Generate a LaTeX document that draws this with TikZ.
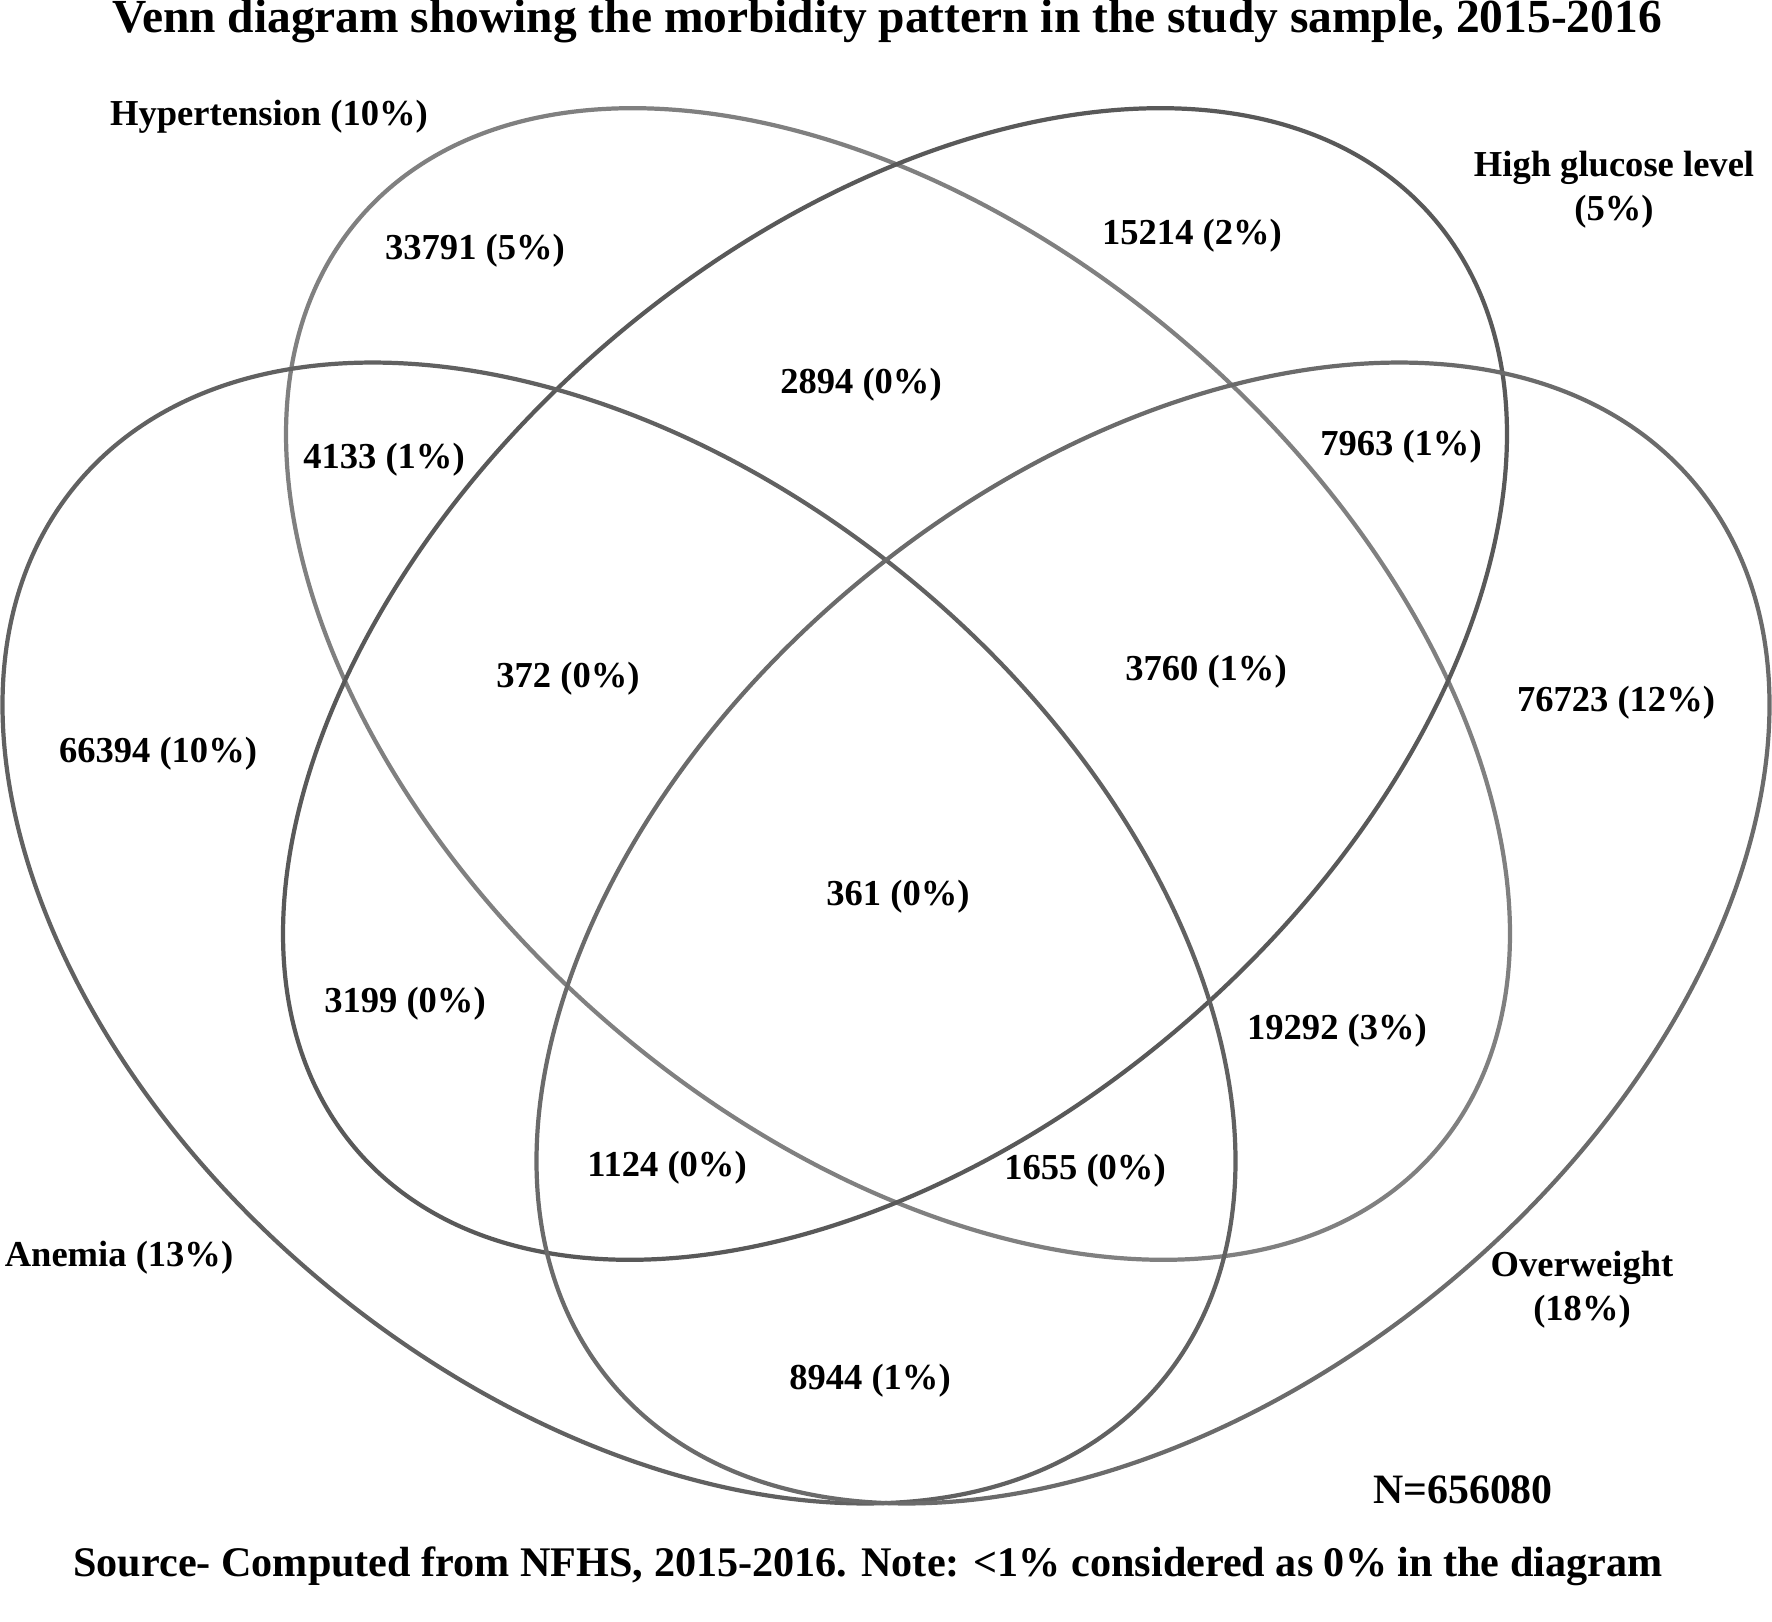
\documentclass[tikz,border=0pt]{standalone}
\usepackage{fontspec}
\setmainfont{Liberation Serif}
\begin{document}
\begin{tikzpicture}
	\tikzset{lbl/.style={font=\fontsize{10.4}{12.5}\selectfont\bfseries, align=center},
		set/.style={line width=1.2pt}};
	\useasboundingbox (0,0) rectangle (17.72,16.21);
	% the four sets
	\draw[set, draw=black!50] (8.98,9.37) ellipse[x radius=7.12, y radius=4.46, rotate=-41];
	\draw[set, draw=black!65] (8.95,9.37) ellipse[x radius=7.12, y radius=4.46, rotate=41];
	\draw[set, draw=black!62] (6.19,6.88) ellipse[x radius=7.04, y radius=4.58, rotate=-39.5];
	\draw[set, draw=black!58] (11.53,6.88) ellipse[x radius=7.04, y radius=4.58, rotate=39.5];
	% counts
	\foreach \x/\y/\t/\nm in {4.75/13.70/33791 (5\%)/a, 11.92/13.85/15214 (2\%)/b,
		8.61/12.36/2894 (0\%)/c, 3.84/11.61/4133 (1\%)/d, 14.01/11.74/7963 (1\%)/e,
		5.68/9.42/372 (0\%)/f, 12.06/9.49/3760 (1\%)/g, 1.58/8.67/66394 (10\%)/h,
		16.16/9.18/76723 (12\%)/i, 8.98/7.24/361 (0\%)/j, 4.05/6.17/3199 (0\%)/k,
		13.37/5.90/19292 (3\%)/l, 6.67/4.53/1124 (0\%)/m, 10.85/4.50/1655 (0\%)/n,
		8.70/2.40/8944 (1\%)/o}{
		\node[lbl] (cnt\nm) at (\x,\y) {\t};
	}
	% set names
	\node[lbl] (hyp) at (2.69,15.04) {Hypertension (10\%)};
	\node[lbl] (glu) at (16.14,14.31) {High glucose level\\(5\%)};
	\node[lbl] (ane) at (1.19,3.63) {Anemia (13\%)};
	\node[lbl] (ovw) at (15.82,3.31) {Overweight\\(18\%)};
	\node[lbl, font=\fontsize{11.9}{14}\selectfont\bfseries] (tot) at (14.63,1.31) {N=656080};
	\node[lbl, font=\fontsize{13.5}{15}\selectfont\bfseries] (title) at (8.87,16.00) {Venn diagram showing the morbidity pattern in the study sample, 2015-2016};
	\node[lbl, font=\fontsize{12}{14}\selectfont\bfseries] (src) at (8.68,0.55) {Source- Computed from NFHS, 2015-2016. Note: <1\% considered as 0\% in the diagram};
\end{tikzpicture}
\end{document}
